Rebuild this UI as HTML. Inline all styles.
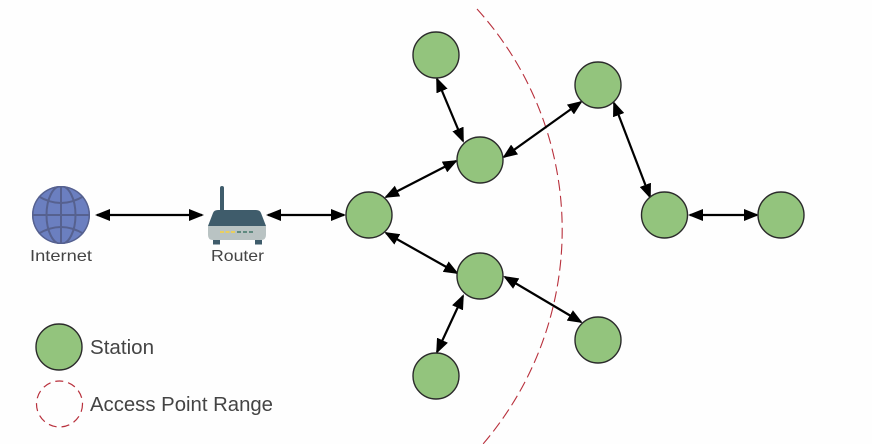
<!DOCTYPE html>
<html><head><meta charset="utf-8"><style>
html,body{margin:0;padding:0;background:#fefefe}
svg{display:block;filter:blur(0.25px)}
text{font-family:"Liberation Sans",sans-serif;fill:#444}
</style></head><body>
<svg width="872" height="444" viewBox="0 0 872 444" xmlns="http://www.w3.org/2000/svg">
<defs>
<marker id="a" markerUnits="userSpaceOnUse" markerWidth="15" markerHeight="12" refX="13" refY="6" orient="auto-start-reverse"><path d="M0 0L15 6L0 12Z" fill="#000"/></marker>
<clipPath id="g"><circle cx="61" cy="215" r="29"/></clipPath>
</defs>
<rect width="872" height="444" fill="#fefefe"/>
<path d="M477 9A329 329 0 0 1 483 444" fill="none" stroke="#b8303c" stroke-width="1.1" stroke-dasharray="11 5"/>
<g stroke="#000" stroke-width="2.200" fill="none">
<line x1="97" y1="215" x2="202" y2="215" marker-start="url(#a)" marker-end="url(#a)"/>
<line x1="268" y1="215" x2="344" y2="215" marker-start="url(#a)" marker-end="url(#a)"/>
<line x1="386" y1="197" x2="456" y2="161" marker-start="url(#a)" marker-end="url(#a)"/>
<line x1="386" y1="233" x2="457" y2="273" marker-start="url(#a)" marker-end="url(#a)"/>
<line x1="437" y1="79" x2="463" y2="141" marker-start="url(#a)" marker-end="url(#a)"/>
<line x1="504" y1="157" x2="581" y2="102" marker-start="url(#a)" marker-end="url(#a)"/>
<line x1="614" y1="103" x2="650" y2="197" marker-start="url(#a)" marker-end="url(#a)"/>
<line x1="690" y1="215" x2="757" y2="215" marker-start="url(#a)" marker-end="url(#a)"/>
<line x1="505" y1="277" x2="581" y2="322" marker-start="url(#a)" marker-end="url(#a)"/>
<line x1="463" y1="296" x2="437" y2="352" marker-start="url(#a)" marker-end="url(#a)"/>
</g>
<g fill="#93c47d" stroke="#2b2b2b" stroke-width="1.4">
<circle cx="436" cy="55" r="23"/>
<circle cx="598" cy="85" r="23"/>
<circle cx="480" cy="160" r="23"/>
<circle cx="369" cy="215" r="23"/>
<circle cx="664.500" cy="215" r="23"/>
<circle cx="781" cy="215" r="23"/>
<circle cx="480" cy="276" r="23"/>
<circle cx="598" cy="340" r="23"/>
<circle cx="436" cy="376" r="23"/>
<circle cx="59" cy="347" r="23"/>
</g>
<circle cx="59.500" cy="404" r="23" fill="none" stroke="#b8303c" stroke-width="1.2" stroke-dasharray="8 5"/>
<!-- globe -->
<circle cx="61" cy="215" r="29" fill="#6b7fc0"/>
<g clip-path="url(#g)" fill="none" stroke="#56618f" stroke-width="2">
<circle cx="61" cy="215" r="28.500"/>
<ellipse cx="61" cy="215" rx="14.500" ry="29"/>
<line x1="61" y1="186" x2="61" y2="244"/>
<line x1="32" y1="215" x2="90" y2="215"/>
<path d="M38 196Q61 210 84 196"/>
<path d="M38 234Q61 220 84 234"/>
</g>
<!-- router -->
<rect x="220" y="186" width="4" height="26" rx="2" fill="#3f5c6b"/>
<path d="M218 210H256Q260 210 261 213L266 226H208L213 213Q214 210 218 210Z" fill="#3f5c6b"/>
<path d="M208 226H266V235Q266 240 261 240H213Q208 240 208 235Z" fill="#b9c3c3"/>
<rect x="213" y="240" width="7" height="4.500" fill="#3f5c6b"/>
<rect x="255" y="240" width="7" height="4.500" fill="#3f5c6b"/>
<g fill="#e9cf5f"><rect x="220" y="231" width="4" height="2"/><rect x="225.500" y="231" width="4" height="2"/><rect x="231" y="231" width="4" height="2"/></g>
<g fill="#5f8a80"><rect x="237" y="231" width="4" height="2"/><rect x="243" y="231" width="4" height="2"/><rect x="249" y="231" width="4" height="2"/></g>
<text x="30" y="261" font-size="16" textLength="62" lengthAdjust="spacingAndGlyphs">Internet</text>
<text x="211" y="261" font-size="16" textLength="53" lengthAdjust="spacingAndGlyphs">Router</text>
<text x="90" y="354" font-size="20" textLength="64" lengthAdjust="spacingAndGlyphs">Station</text>
<text x="90" y="411" font-size="20" textLength="183" lengthAdjust="spacingAndGlyphs">Access Point Range</text>
</svg>
</body></html>
